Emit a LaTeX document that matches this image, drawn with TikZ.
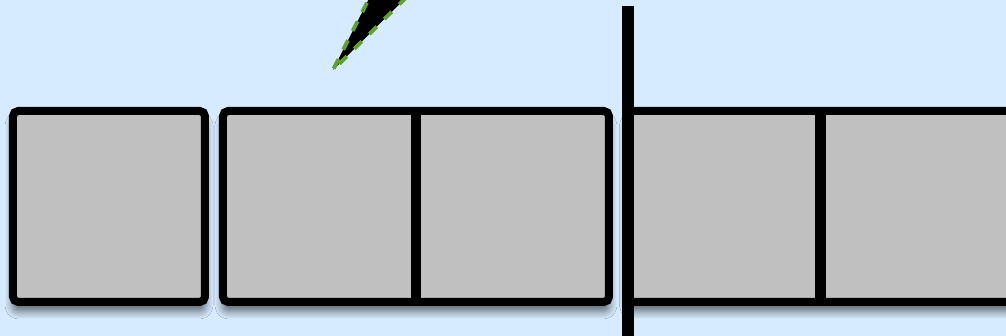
\documentclass[tikz,border=0pt]{standalone}
\usepackage{tikz}
\usetikzlibrary{positioning, calc, shadows.blur}
\usepackage{xcolor}
\definecolor{bgblue}{RGB}{214,235,255}
\definecolor{cellgray}{RGB}{192,192,192}
\definecolor{edgegreen}{RGB}{98,160,50}

\begin{document}
\begin{tikzpicture}[node distance=0mm,
  cell/.style={fill=cellgray, minimum width=1.93cm, minimum height=1.91cm, inner sep=0pt, outer sep=0pt},
  frame/.style={draw, line width=0.08cm, rounded corners=1.5pt,
               blur shadow={shadow xshift=0pt, shadow yshift=-0.09cm, shadow opacity=60, shadow blur steps=8,
                            shadow blur radius=0.08cm}},
  divider/.style={line width=0.105cm},
]
  \fill[bgblue] (0,0) rectangle (10.06,3.36);
  \clip (0,0) rectangle (10.06,3.36);

  \node[cell, minimum width=1.92cm] (c1) at (1.09,1.295) {};
  \node[cell, right=0.18cm of c1]   (c2) {};
  \node[cell, right=0mm of c2]      (c3) {};
  \node[cell, right=0.185cm of c3]  (c4) {};
  \node[cell, right=0mm of c4]      (c5) {};

  % frames round the groups, drawn over the fills
  \draw[frame, fill=cellgray] (c1.south west) rectangle (c1.north east);
  \draw[frame, fill=cellgray] (c2.south west) rectangle (c3.north east);
  \draw[frame, fill=cellgray] (c4.south west) rectangle (c5.north east);
  \draw[divider] (c2.north east) -- (c2.south east);
  \draw[divider] (c4.north east) -- (c4.south east);

  % separator
  \coordinate (bar top) at (6.28,3.30);
  \coordinate (bar bot) at (6.28,0);
  \draw[line width=0.12cm] (bar top) -- (bar bot);

  % spike, cut at the top edge
  \coordinate (tip) at (3.33,2.66);
  \fill[black] (tip) -- ++(0.53,1.05) -- ++(0.53,0) -- cycle;
  \draw[edgegreen, line width=1.1pt, dashed] ($(tip)+(0.53,1.05)$) -- (tip) -- ++(1.06,1.05);
\end{tikzpicture}
\end{document}
